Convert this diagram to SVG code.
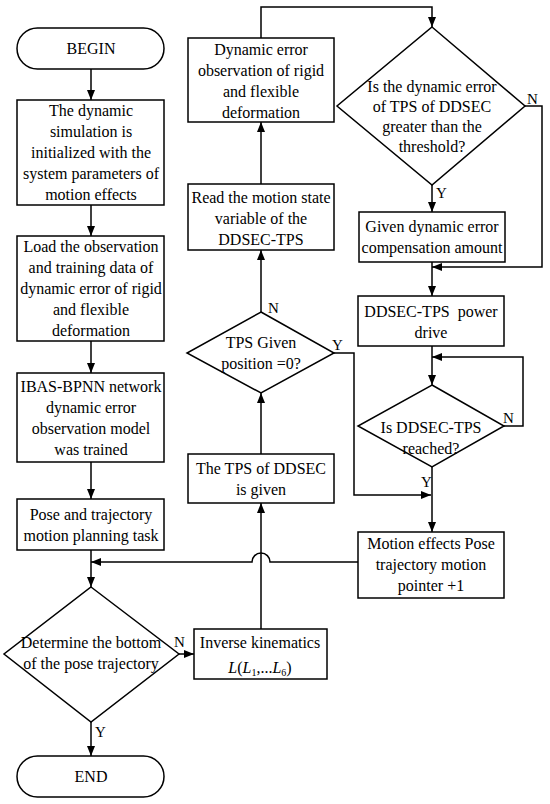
<svg xmlns="http://www.w3.org/2000/svg" width="550" height="804" viewBox="0 0 550 804">
<defs>
<marker id="ah" markerWidth="10" markerHeight="8" refX="10" refY="4" orient="auto" markerUnits="userSpaceOnUse">
<path d="M0,0 L10,4 L0,8 Z" fill="#000"/>
</marker>
<style>
.s{fill:#fff;stroke:#000;stroke-width:1.5}
.t{font-family:"Liberation Serif","Times New Roman",serif;font-size:16px;fill:#000;text-anchor:middle}
.l{font-family:"Liberation Serif","Times New Roman",serif;font-size:15px;fill:#000}
.c{fill:none;stroke:#000;stroke-width:1.5}
.a{fill:none;stroke:#000;stroke-width:1.5;marker-end:url(#ah)}
</style>
</defs>
<rect width="550" height="804" fill="#fff"/>
<g id="connectors">
<path class="a" d="M91,69 V100"/>
<path class="a" d="M91,205 V236"/>
<path class="a" d="M91,341 V373"/>
<path class="a" d="M91,462 V499"/>
<path class="a" d="M91,550 V587"/>
<path class="a" d="M91,722 V756"/>
<path class="a" d="M179,654 H194"/>
<path class="a" d="M261,629 V503"/>
<path class="a" d="M261,454 V393"/>
<path class="a" d="M261,312 V250"/>
<path class="a" d="M261,184 V122"/>
<path class="a" d="M261,38 V7 H432 V27"/>
<path class="a" d="M525,106 H542 V267 H432"/>
<path class="a" d="M432,185 V212"/>
<path class="a" d="M432,262 V296"/>
<path class="a" d="M432,346 V385"/>
<path class="a" d="M504,426 H523 V357 H432"/>
<path class="a" d="M432,467 V532"/>
<path class="a" d="M334,353 H354 V495 H431"/>
<path class="a" d="M358,562 H270 A9,9 0 0 0 252,562 H91"/>
<text class="l" x="268" y="313">N</text>
<text class="l" x="332" y="350">Y</text>
<text class="l" x="527" y="104">N</text>
<text class="l" x="436" y="198">Y</text>
<text class="l" x="503" y="423">N</text>
<text class="l" x="421" y="487">Y</text>
<text class="l" x="174" y="647">N</text>
<text class="l" x="95" y="737">Y</text>
</g>
<g id="begin">
<rect class="s" x="17" y="28" width="147" height="41" rx="20.5"/>
<text class="t" x="91" y="54">BEGIN</text>
</g>
<g id="init">
<rect class="s" x="17" y="100" width="147" height="105"/>
<text class="t" x="91" y="116">The dynamic</text>
<text class="t" x="91" y="137">simulation is</text>
<text class="t" x="91" y="158">initialized with the</text>
<text class="t" x="91" y="179">system parameters of</text>
<text class="t" x="91" y="200">motion effects</text>
</g>
<g id="load">
<rect class="s" x="17" y="236" width="147" height="105"/>
<text class="t" x="91" y="252">Load the observation</text>
<text class="t" x="91" y="273">and training data of</text>
<text class="t" x="91" y="294">dynamic error of rigid</text>
<text class="t" x="91" y="315">and flexible</text>
<text class="t" x="91" y="336">deformation</text>
</g>
<g id="ibas">
<rect class="s" x="17" y="373" width="147" height="89"/>
<text class="t" x="91" y="392">IBAS-BPNN network</text>
<text class="t" x="91" y="413">dynamic error</text>
<text class="t" x="91" y="434">observation model</text>
<text class="t" x="91" y="455">was trained</text>
</g>
<g id="pose">
<rect class="s" x="17" y="499" width="147" height="51"/>
<text class="t" x="91" y="520">Pose and trajectory</text>
<text class="t" x="91" y="541">motion planning task</text>
</g>
<g id="determine">
<polygon class="s" points="91,587 179,654 91,722 4,654"/>
<text class="t" x="91" y="648">Determine the bottom</text>
<text class="t" x="91" y="669">of the pose trajectory</text>
</g>
<g id="end">
<rect class="s" x="17" y="756" width="147" height="41" rx="20.5"/>
<text class="t" x="91" y="782">END</text>
</g>
<g id="inverse">
<rect class="s" x="194" y="629" width="133" height="50"/>
<text class="t" x="260" y="648">Inverse kinematics</text>
<text class="t" x="260" y="673"><tspan font-style="italic">L</tspan>(<tspan font-style="italic">L</tspan><tspan font-size="10" dy="3">1</tspan><tspan dy="-3">,...</tspan><tspan font-style="italic">L</tspan><tspan font-size="10" dy="3">6</tspan><tspan dy="-3">)</tspan></text>
</g>
<g id="tps-given">
<rect class="s" x="188" y="454" width="146" height="49"/>
<text class="t" x="261" y="474">The TPS of DDSEC</text>
<text class="t" x="261" y="495">is given</text>
</g>
<g id="tps-zero">
<polygon class="s" points="261,312 334,353 261,393 187,353"/>
<text class="t" x="261" y="348">TPS Given</text>
<text class="t" x="261" y="369">position =0?</text>
</g>
<g id="read">
<rect class="s" x="188" y="184" width="146" height="66"/>
<text class="t" x="261" y="203">Read the motion state</text>
<text class="t" x="261" y="224">variable of the</text>
<text class="t" x="261" y="245">DDSEC-TPS</text>
</g>
<g id="observe">
<rect class="s" x="188" y="38" width="146" height="84"/>
<text class="t" x="261" y="55">Dynamic error</text>
<text class="t" x="261" y="76">observation of rigid</text>
<text class="t" x="261" y="97">and flexible</text>
<text class="t" x="261" y="118">deformation</text>
</g>
<g id="threshold">
<polygon class="s" points="432,27 525,106 432,185 337,106"/>
<text class="t" x="432" y="92">Is the dynamic error</text>
<text class="t" x="432" y="112">of TPS of DDSEC</text>
<text class="t" x="432" y="132">greater than the</text>
<text class="t" x="432" y="152">threshold?</text>
</g>
<g id="compensation">
<rect class="s" x="359" y="212" width="146" height="50"/>
<text class="t" x="432" y="232">Given dynamic error</text>
<text class="t" x="432" y="253">compensation amount</text>
</g>
<g id="drive">
<rect class="s" x="358" y="296" width="146" height="50"/>
<text class="t" x="431" y="317" xml:space="preserve">DDSEC-TPS  power</text>
<text class="t" x="431" y="338">drive</text>
</g>
<g id="reached">
<polygon class="s" points="432,385 504,426 432,467 358,426"/>
<text class="t" x="431" y="433">Is DDSEC-TPS</text>
<text class="t" x="431" y="454">reached?</text>
</g>
<g id="pointer">
<rect class="s" x="358" y="532" width="146" height="66"/>
<text class="t" x="431" y="549">Motion effects Pose</text>
<text class="t" x="431" y="570">trajectory motion</text>
<text class="t" x="431" y="591">pointer +1</text>
</g>
</svg>
